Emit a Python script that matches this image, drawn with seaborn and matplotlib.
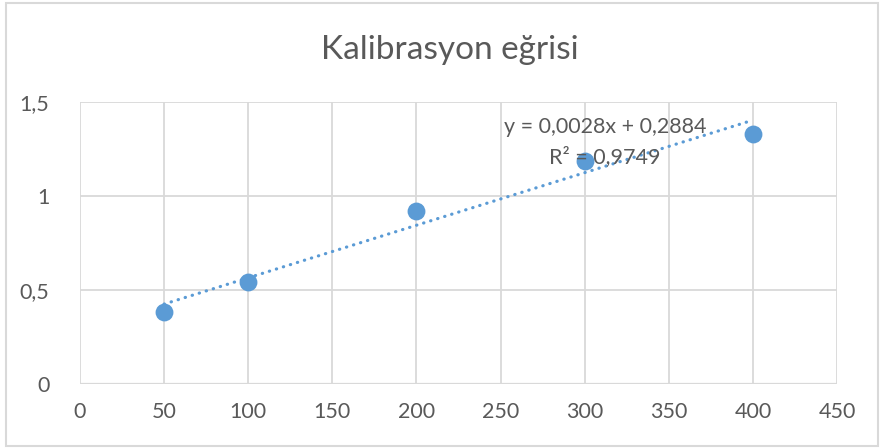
import numpy as np
import pandas as pd
import seaborn as sns
from matplotlib import pyplot as plt
from matplotlib.patches import Rectangle
from matplotlib.ticker import FuncFormatter

# veriler
konsantrasyon = [50, 100, 200, 300, 400]
absorbans = [0.383, 0.543, 0.920, 1.186, 1.330]
denklem = 'y = 0,0028x + 0,2884'
r_kare = 'R² = 0,9749'
baslik = 'Kalibrasyon eğrisi'

df = pd.DataFrame({'x': konsantrasyon, 'y': absorbans})

sns.set_style('white')
plt.rcParams['font.family'] = ['Lato', 'DejaVu Sans']

mavi = '#5B9BD5'
gri = '#D9D9D9'
yazi = '#595959'

fig = plt.figure(figsize=(8.82, 4.48), dpi=100)
ax = fig.add_axes([80 / 882, 1 - 384 / 448, 757 / 882, 282 / 448])

# doğrusal trend çizgisi
egim, kesim = np.polyfit(df['x'], df['y'], 1)
trend = pd.DataFrame({'x': [df['x'].min(), df['x'].max()]})
trend['y'] = egim * trend['x'] + kesim
sns.lineplot(data=trend, x='x', y='y', ax=ax, color=mavi, linewidth=2.3,
             linestyle=(0, (0.1, 2.2)), dash_capstyle='round', zorder=2)

sns.scatterplot(data=df, x='x', y='y', ax=ax, color=mavi, s=165,
                edgecolor=mavi, linewidth=0, zorder=3)

ax.set_xlim(0, 450)
ax.set_ylim(0, 1.5)
ax.set_xticks(np.arange(0, 451, 50))
ax.set_yticks([0, 0.5, 1, 1.5])
ax.yaxis.set_major_formatter(FuncFormatter(lambda v, p: f'{v:g}'.replace('.', ',')))
ax.grid(True, color=gri, linewidth=1.3)
ax.set_axisbelow(True)
for s in ax.spines.values():
    s.set_visible(False)
ax.axhline(0, color=gri, linewidth=1.6, zorder=1)
ax.tick_params(length=0, labelsize=15.5, colors=yazi, pad=13)
ax.tick_params(axis='y', pad=22)
ax.set_xlabel('')
ax.set_ylabel('')

ax.text(312, 1.367, denklem, ha='center', va='center', fontsize=15.5, color=yazi)
ax.text(312, 1.207, r_kare, ha='center', va='center', fontsize=15.5, color=yazi)

fig.text(450 / 882, 1 - 50 / 448, baslik, ha='center', va='center',
         fontsize=24, color=yazi)

fig.patches.append(Rectangle((6 / 882, 2 / 448), 872 / 882, 443 / 448,
                             transform=fig.transFigure, fill=False,
                             edgecolor=gri, linewidth=1.5))

fig.savefig('out.png', dpi=100)
